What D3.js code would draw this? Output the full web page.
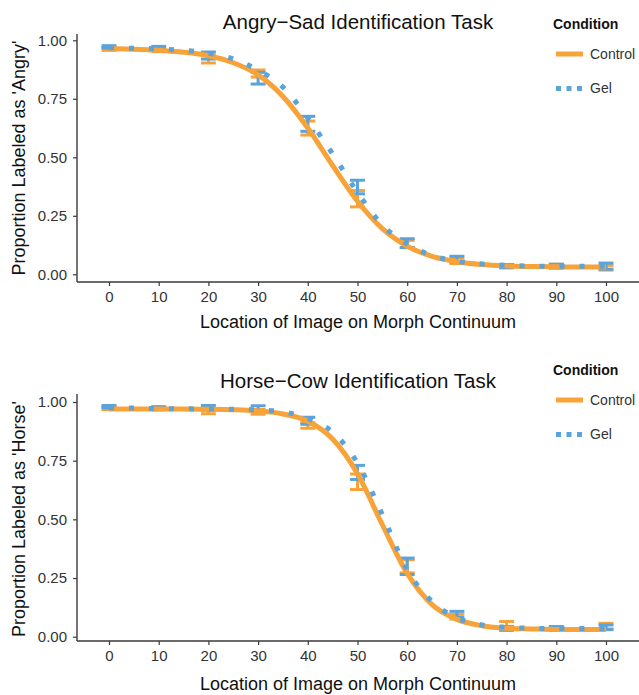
<!DOCTYPE html>
<html>
<head>
<meta charset="utf-8">
<script src="https://cdn.jsdelivr.net/npm/d3@7"></script>
<style>
  body { margin: 0; background: #fff; }
  svg { display: block; font-family: "Liberation Sans", Arial, sans-serif; }
</style>
</head>
<body>
<div class="chart"></div>
<script>
// morph levels (x) and the points used for the fitted curves
var morphLevels = [0, 10, 20, 30, 40, 50, 60, 70, 80, 90, 100];
var fitSteps = [0, 5, 10, 15, 20, 25, 30, 35, 40, 45, 50, 55, 60, 65, 70, 75, 80, 85, 90, 95, 100];
var xTicks = [0, 10, 20, 30, 40, 50, 60, 70, 80, 90, 100];
var yTicks = [0, 0.25, 0.5, 0.75, 1];
var conditions = ["Control", "Gel"];

// Angry-Sad task
var angryControlMean = [0.963, 0.958, 0.920, 0.858, 0.625, 0.323, 0.130, 0.058, 0.035, 0.035, 0.028];
var angryControlSE   = [0.006, 0.006, 0.017, 0.015, 0.030, 0.035, 0.015, 0.012, 0.007, 0.008, 0.010];
var angryGelMean     = [0.972, 0.968, 0.935, 0.838, 0.643, 0.373, 0.133, 0.065, 0.035, 0.035, 0.035];
var angryGelSE       = [0.005, 0.006, 0.015, 0.025, 0.032, 0.029, 0.019, 0.012, 0.007, 0.008, 0.013];
var angryControlFit  = [0.965, 0.962, 0.957, 0.949, 0.934, 0.904, 0.852, 0.760, 0.625, 0.465, 0.312,
                        0.195, 0.120, 0.077, 0.054, 0.042, 0.036, 0.033, 0.032, 0.031, 0.031];
var angryGelFit      = [0.968, 0.966, 0.963, 0.957, 0.945, 0.920, 0.872, 0.800, 0.668, 0.514, 0.350,
                        0.210, 0.130, 0.080, 0.056, 0.044, 0.038, 0.035, 0.034, 0.034, 0.034];

// Horse-Cow task
var horseControlMean = [0.974, 0.972, 0.962, 0.958, 0.900, 0.660, 0.300, 0.085, 0.050, 0.035, 0.045];
var horseControlSE   = [0.006, 0.006, 0.012, 0.010, 0.012, 0.033, 0.028, 0.010, 0.015, 0.008, 0.012];
var horseGelMean     = [0.980, 0.975, 0.975, 0.972, 0.920, 0.700, 0.300, 0.095, 0.035, 0.035, 0.040];
var horseGelSE       = [0.005, 0.005, 0.010, 0.012, 0.015, 0.030, 0.035, 0.013, 0.008, 0.008, 0.010];
var horseControlFit  = [0.970, 0.970, 0.970, 0.970, 0.969, 0.967, 0.962, 0.949, 0.918, 0.842, 0.694,
                        0.477, 0.270, 0.137, 0.074, 0.047, 0.036, 0.033, 0.031, 0.031, 0.031];
var horseGelFit      = [0.975, 0.974, 0.972, 0.971, 0.970, 0.969, 0.966, 0.958, 0.930, 0.872, 0.740,
                        0.520, 0.285, 0.150, 0.080, 0.050, 0.040, 0.036, 0.035, 0.035, 0.035];

var orange = "#F8A23A",
    blue = "#5AA3DB",
    axisColor = "#3a3a3a",
    textColor = "#333";

var svg = d3.select(".chart")
        .append("svg")
        .attr("width", 639)
        .attr("height", 695);

function drawPanel(opts) {
    var x = d3.scaleLinear().domain([0, 100]).range([109, 606]);
    var y = d3.scaleLinear().domain([0, 1]).range([opts.y0, opts.y1]);
    var g = svg.append("g");

    // axis lines
    g.append("line")
            .attr("x1", 77).attr("x2", 77)
            .attr("y1", opts.top).attr("y2", opts.bottom)
            .attr("stroke", axisColor).attr("stroke-width", 1.4);
    g.append("line")
            .attr("x1", 77).attr("x2", 639)
            .attr("y1", opts.bottom).attr("y2", opts.bottom)
            .attr("stroke", axisColor).attr("stroke-width", 1.4);

    // y axis
    var yAxis = d3.axisLeft(y)
            .tickValues(yTicks)
            .tickSize(4)
            .tickPadding(6)
            .tickFormat(d3.format(".2f"));
    var y_g = g.append("g")
            .attr("transform", "translate(77,0)")
            .call(yAxis);
    y_g.select(".domain").remove();
    y_g.selectAll("line").attr("stroke", axisColor).attr("stroke-width", 1.2);
    y_g.selectAll("text")
            .style("font-size", "15px")
            .style("font-family", "Liberation Sans, Arial, sans-serif")
            .attr("fill", textColor);

    // x axis
    var xAxis = d3.axisBottom(x)
            .tickValues(xTicks)
            .tickSize(4)
            .tickPadding(5)
            .tickFormat(d3.format("d"));
    var x_g = g.append("g")
            .attr("transform", "translate(0," + opts.bottom + ")")
            .call(xAxis);
    x_g.select(".domain").remove();
    x_g.selectAll("line").attr("stroke", axisColor).attr("stroke-width", 1.2);
    x_g.selectAll("text")
            .style("font-size", "15px")
            .style("font-family", "Liberation Sans, Arial, sans-serif")
            .attr("fill", textColor);

    // titles
    g.append("text")
            .attr("x", 358).attr("y", opts.titleY)
            .attr("text-anchor", "middle")
            .style("font-size", "20.5px")
            .attr("fill", "#111")
            .text(opts.title);
    g.append("text")
            .attr("x", 358).attr("y", opts.xTitleY)
            .attr("text-anchor", "middle")
            .style("font-size", "18px")
            .attr("fill", "#111")
            .text("Location of Image on Morph Continuum");
    g.append("text")
            .attr("transform", "translate(25," + opts.yTitleMid + ") rotate(-90)")
            .attr("text-anchor", "middle")
            .style("font-size", opts.yTitleSize)
            .attr("fill", "#111")
            .text(opts.yTitle);

    // error bars
    var series = [
        {name: "Control", mean: opts.controlMean, se: opts.controlSE, fit: opts.controlFit, color: orange},
        {name: "Gel", mean: opts.gelMean, se: opts.gelSE, fit: opts.gelFit, color: blue}
    ];
    var capHalf = 1.5;
    series.forEach(function (s) {
        var pts = morphLevels.map(function (m, i) {
            return {x: m, lo: s.mean[i] - s.se[i], hi: s.mean[i] + s.se[i]};
        });
        var eb = g.append("g").attr("stroke", s.color).attr("stroke-width", 3).attr("fill", "none");
        eb.selectAll(".v").data(pts).enter().append("line")
                .attr("x1", function (d) { return x(d.x); })
                .attr("x2", function (d) { return x(d.x); })
                .attr("y1", function (d) { return y(d.lo); })
                .attr("y2", function (d) { return y(d.hi); });
        eb.selectAll(".top").data(pts).enter().append("line")
                .attr("x1", function (d) { return x(d.x - capHalf); })
                .attr("x2", function (d) { return x(d.x + capHalf); })
                .attr("y1", function (d) { return y(d.hi); })
                .attr("y2", function (d) { return y(d.hi); });
        eb.selectAll(".bot").data(pts).enter().append("line")
                .attr("x1", function (d) { return x(d.x - capHalf); })
                .attr("x2", function (d) { return x(d.x + capHalf); })
                .attr("y1", function (d) { return y(d.lo); })
                .attr("y2", function (d) { return y(d.lo); });
    });

    // fitted curves
    var line = d3.line()
            .x(function (d) { return x(d[0]); })
            .y(function (d) { return y(d[1]); })
            .curve(d3.curveMonotoneX);
    g.append("path")
            .attr("d", line(fitSteps.map(function (s, i) { return [s, opts.controlFit[i]]; })))
            .attr("fill", "none")
            .attr("stroke", orange)
            .attr("stroke-width", 5);
    g.append("path")
            .attr("d", line(fitSteps.map(function (s, i) { return [s, opts.gelFit[i]]; })))
            .attr("fill", "none")
            .attr("stroke", blue)
            .attr("stroke-width", 5)
            .attr("stroke-dasharray", "5,15");

    // legend
    var lg = g.append("g");
    lg.append("text")
            .attr("x", 553).attr("y", opts.legendY)
            .style("font-size", "14px")
            .style("font-weight", "bold")
            .attr("fill", "#111")
            .text("Condition");
    conditions.forEach(function (c, i) {
        var ky = opts.legendY + 25 + i * 34.5;
        lg.append("line")
                .attr("x1", 556).attr("x2", 583)
                .attr("y1", ky).attr("y2", ky)
                .attr("stroke", i === 0 ? orange : blue)
                .attr("stroke-width", 5)
                .attr("stroke-dasharray", i === 0 ? null : "5,5.5");
        lg.append("text")
                .attr("x", 590).attr("y", ky)
                .attr("dy", "0.35em")
                .style("font-size", "14px")
                .attr("fill", textColor)
                .text(c);
    });
}

drawPanel({
    title: "Angry\u2212Sad Identification Task",
    yTitle: "Proportion Labeled as 'Angry'",
    yTitleSize: "18px",
    top: 34, bottom: 282,
    y0: 274.3, y1: 40.3,
    titleY: 29, xTitleY: 328, yTitleMid: 158,
    legendY: 29,
    controlMean: angryControlMean, controlSE: angryControlSE, controlFit: angryControlFit,
    gelMean: angryGelMean, gelSE: angryGelSE, gelFit: angryGelFit
});

drawPanel({
    title: "Horse\u2212Cow Identification Task",
    yTitle: "Proportion Labeled as 'Horse'",
    yTitleSize: "18px",
    top: 394, bottom: 641,
    y0: 636.7, y1: 402,
    titleY: 388, xTitleY: 690, yTitleMid: 519,
    legendY: 375,
    controlMean: horseControlMean, controlSE: horseControlSE, controlFit: horseControlFit,
    gelMean: horseGelMean, gelSE: horseGelSE, gelFit: horseGelFit
});
</script>
</body>
</html>
